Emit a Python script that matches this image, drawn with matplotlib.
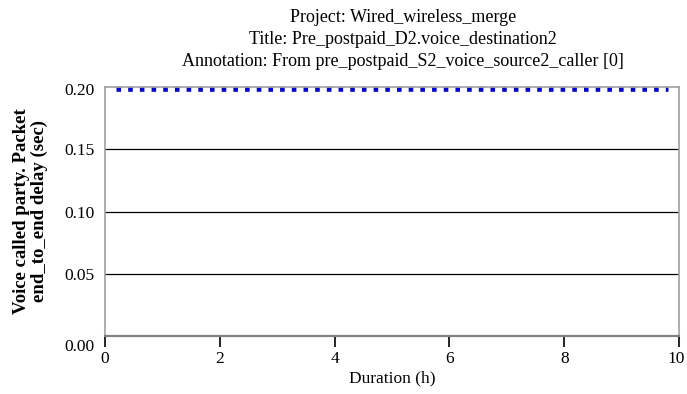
import matplotlib
matplotlib.use("Agg")
import matplotlib.pyplot as plt
import matplotlib.transforms as mtransforms

# Data
duration_h = [0.2, 9.8]
delay_sec = [0.198, 0.198]
x_ticks = [0, 2, 4, 6, 8, 10]
y_ticks = [0.00, 0.05, 0.10, 0.15, 0.20]
y_tick_labels = ["0.00", "0.05", "0.10", "0.15", "0.20"]
title_lines = [
    "Project: Wired_wireless_merge",
    "Title: Pre_postpaid_D2.voice_destination2",
    "Annotation: From pre_postpaid_S2_voice_source2_caller [0]",
]
x_label = "Duration (h)"
y_label = "Voice called party. Packet\nend_to_end delay (sec)"

plt.rcParams['font.family'] = ['Liberation Serif', 'DejaVu Serif']

W, H = 687, 394
fig = plt.figure(figsize=(W/100, H/100), dpi=100)
L, R, T, B = 105, 679, 87, 336
ax = fig.add_axes([L/W, 1-B/H, (R-L)/W, (B-T)/H])

ax.plot(duration_h, delay_sec, color='#0000CC', linewidth=3.3,
        linestyle=(0, (1, 1.55)), dash_capstyle='butt')

ax.set_xlim(0, 10)
ax.set_ylim(0, 0.20)
ax.set_xticks(x_ticks)
ax.set_xticklabels([str(t) for t in x_ticks], fontsize=12.5)
ax.set_yticks(y_ticks)
ax.set_yticklabels(y_tick_labels, fontsize=12.5)

for yv in y_ticks[1:-1]:
    ax.axhline(yv, color='black', linewidth=0.9, zorder=0)

for s in ['left', 'right', 'top']:
    ax.spines[s].set_color('#a0a0a0')
    ax.spines[s].set_linewidth(1.2)
ax.spines['bottom'].set_color('#808080')
ax.spines['bottom'].set_linewidth(1.6)

ax.tick_params(axis='x', direction='out', length=8, width=1.2, color='black', pad=3)
ax.tick_params(axis='y', length=0, pad=7.5)

# shift the 0.00 and 0.20 labels slightly down, as in the reference
labels = ax.get_yticklabels()
labels[0].set_transform(labels[0].get_transform() +
                        mtransforms.ScaledTranslation(0, -9/100, fig.dpi_scale_trans))
labels[-1].set_transform(labels[-1].get_transform() +
                         mtransforms.ScaledTranslation(0, -2/100, fig.dpi_scale_trans))
# keep the last x label inside the figure
xl = ax.get_xticklabels()
xl[-1].set_transform(xl[-1].get_transform() +
                     mtransforms.ScaledTranslation(-3/100, 0, fig.dpi_scale_trans))

ax.set_xlabel(x_label, fontsize=12.5, labelpad=2)
ax.set_ylabel(y_label, fontsize=13.5, fontweight='bold', labelpad=12, linespacing=1.0)

for i, line in enumerate(title_lines):
    fig.text(403/W, 1 - (17 + 22*i)/H, line, ha='center', va='center', fontsize=13)

fig.savefig("out.png", dpi=100)
